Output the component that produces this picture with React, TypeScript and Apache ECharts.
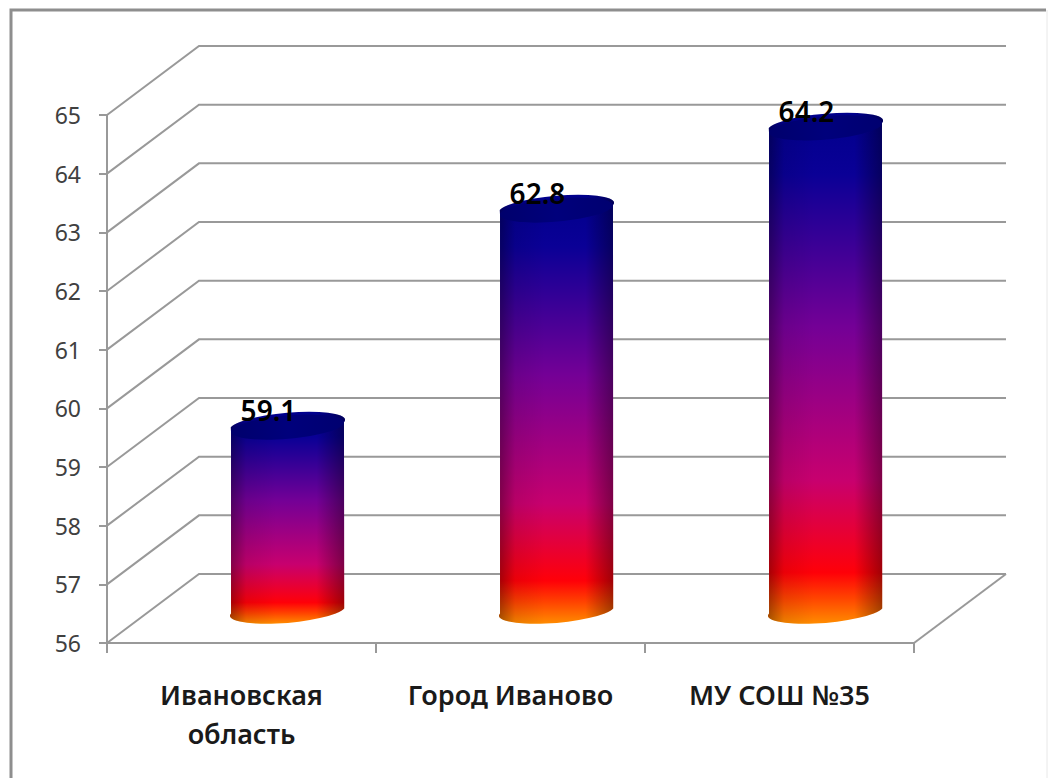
import React, { useEffect, useRef } from "react";
import * as echarts from "echarts";

const categories = ["Ивановская\nобласть", "Город Иваново", "МУ СОШ №35"];
const values = [59.1, 62.8, 64.2];
const valueLabels = ["59.1", "62.8", "64.2"];
const wallTicks = [56, 57, 58, 59, 60, 61, 62, 63, 64, 65];

const DEPTH_X = 92;
const DEPTH_Y = 69;
const RX = 56.7;
const RY = 11.6;
const TILT_DEG = -5;
const TILT = (TILT_DEG * Math.PI) / 180;

const bodyStops = [
  { offset: 0, color: "#00008c" },
  { offset: 0.12, color: "#0a0096" },
  { offset: 0.42, color: "#740096" },
  { offset: 0.72, color: "#c8006e" },
  { offset: 0.9, color: "#ff0008" },
  { offset: 0.95, color: "#ff4400" },
  { offset: 1, color: "#ff8c00" },
];

function wallItem(params: any, api: any) {
  const v = api.value(1);
  const cs = params.coordSys;
  const p = api.coord([0, v]);
  const y = p[1];
  const x0 = cs.x;
  const x1 = cs.x + cs.width;
  const style = { stroke: "#999999", lineWidth: 2, fill: "none" };
  const children: any[] = [
    {
      type: "polyline",
      shape: { points: [[x0, y], [x0 + DEPTH_X, y - DEPTH_Y], [x1 + DEPTH_X, y - DEPTH_Y]] },
      style,
    },
  ];
  if (v === wallTicks[0]) {
    children.push({
      type: "line",
      shape: { x1, y1: y, x2: x1 + DEPTH_X, y2: y - DEPTH_Y },
      style,
    });
  }
  return { type: "group", children };
}

function cylinderItem(params: any, api: any) {
  const idx = api.value(0);
  const v = api.value(1);
  const top = api.coord([idx, v]);
  const base = api.coord([idx, wallTicks[0]]);
  const cx = top[0] + DEPTH_X / 2;
  const topY = top[1] - DEPTH_Y / 2 + 0.5;
  const baseY = base[1] - DEPTH_Y / 2;
  const ex = RX * Math.cos(TILT);
  const ey = RX * Math.sin(TILT);
  const d =
    `M ${cx - ex} ${topY - ey} ` +
    `L ${cx - ex} ${baseY - ey} ` +
    `A ${RX} ${RY} ${TILT_DEG} 0 0 ${cx + ex} ${baseY + ey} ` +
    `L ${cx + ex} ${topY + ey} ` +
    `A ${RX} ${RY} ${TILT_DEG} 0 0 ${cx - ex} ${topY - ey} Z`;
  const shade = new echarts.graphic.LinearGradient(0, 0, 1, 0, [
    { offset: 0, color: "rgba(0,0,0,0.36)" },
    { offset: 0.14, color: "rgba(0,0,0,0.08)" },
    { offset: 0.4, color: "rgba(0,0,0,0)" },
    { offset: 0.75, color: "rgba(0,0,0,0)" },
    { offset: 1, color: "rgba(0,0,0,0.38)" },
  ]);
  return {
    type: "group",
    children: [
      {
        type: "path",
        shape: { pathData: d },
        style: { fill: new echarts.graphic.LinearGradient(0, 0, 0, 1, bodyStops) },
      },
      { type: "path", shape: { pathData: d }, style: { fill: shade } },
      {
        type: "ellipse",
        x: cx,
        y: topY,
        rotation: -TILT,
        shape: { cx: 0, cy: 0, rx: RX, ry: RY },
        style: {
          fill: new echarts.graphic.LinearGradient(0, 0, 1, 0, [
            { offset: 0, color: "#00006c" },
            { offset: 0.5, color: "#00007c" },
            { offset: 1, color: "#000070" },
          ]),
        },
      },
      {
        type: "text",
        x: cx - 19,
        y: topY - 17,
        style: {
          text: valueLabels[idx],
          fill: "#000000",
          font: '600 28px "Noto Sans"',
          align: "center",
          verticalAlign: "middle",
        },
      },
    ],
  };
}

export default function App() {
  const ref = useRef<HTMLDivElement>(null);
  useEffect(() => {
    const chart = echarts.init(ref.current!, null, { renderer: "svg" });
    chart.setOption({
      animation: false,
      backgroundColor: "#ffffff",
      grid: { left: 107, top: 115, width: 807, height: 528 },
      graphic: [
        {
          type: "polyline",
          silent: true,
          shape: { points: [[11, 778], [11, 10], [1046, 10]] },
          style: { stroke: "#8e8e8e", lineWidth: 3, fill: "none" },
        },
        {
          type: "line",
          silent: true,
          shape: { x1: 1047, y1: 10, x2: 1047, y2: 778 },
          style: { stroke: "#e8e8e8", lineWidth: 1 },
        },
      ],
      xAxis: {
        type: "category",
        data: categories,
        axisLine: { lineStyle: { color: "#999999", width: 2 } },
        axisTick: { show: true, length: 10, lineStyle: { color: "#999999", width: 2 } },
        axisLabel: {
          interval: 0,
          color: "#1a1a1a",
          fontFamily: "Noto Sans",
          fontWeight: 600,
          fontSize: 27,
          lineHeight: 39,
          margin: 32,
        },
      },
      yAxis: {
        type: "value",
        min: 56,
        max: 65,
        interval: 1,
        splitLine: { show: false },
        axisLine: { show: true, lineStyle: { color: "#999999", width: 2 } },
        axisTick: { show: true, length: 8, lineStyle: { color: "#999999", width: 2 } },
        axisLabel: {
          color: "#404040",
          fontFamily: "Noto Sans",
          fontSize: 23,
          margin: 26,
        },
      },
      series: [
        {
          type: "custom",
          name: "wall",
          renderItem: wallItem,
          data: wallTicks.map((t) => [0, t]),
          silent: true,
          z: 1,
        },
        {
          type: "custom",
          name: "values",
          renderItem: cylinderItem,
          data: values.map((v, i) => [i, v]),
          silent: true,
          z: 2,
        },
      ],
    });
    return () => chart.dispose();
  }, []);
  return (
    <div
      ref={ref}
      style={{ position: "fixed", left: 0, top: 0, width: 1051, height: 778 }}
    />
  );
}
